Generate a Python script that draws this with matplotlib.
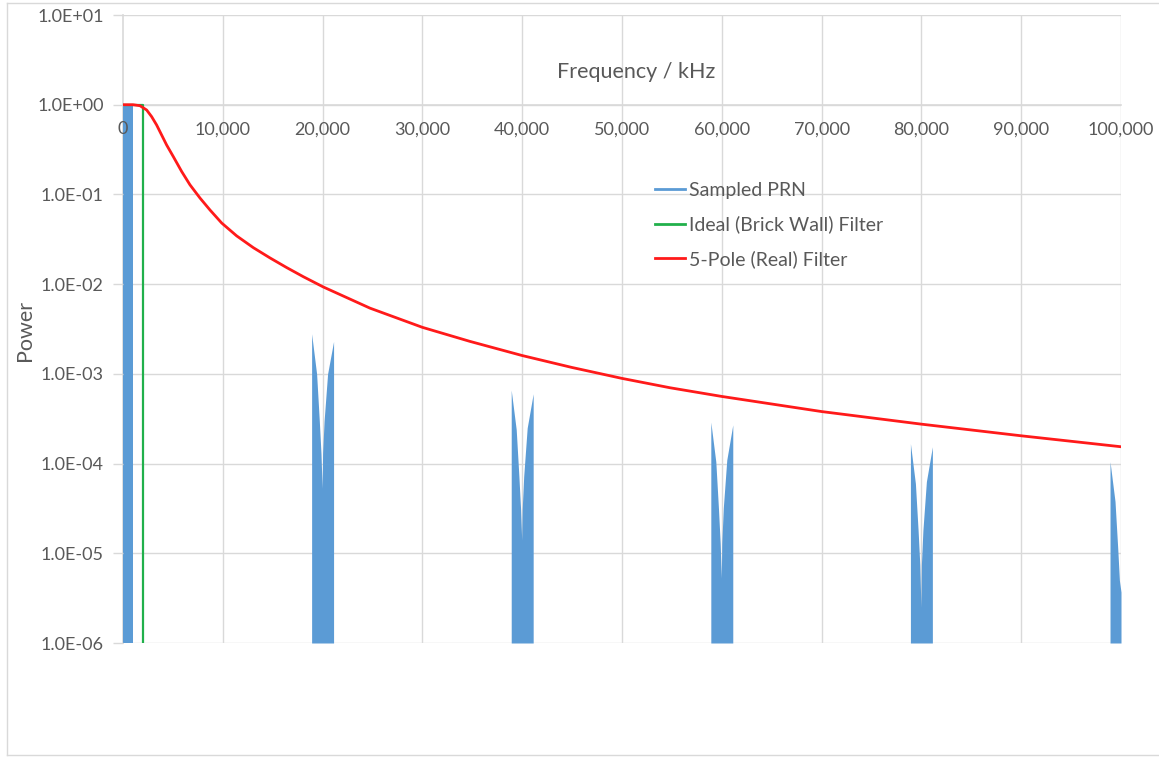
import matplotlib.pyplot as plt
from matplotlib.lines import Line2D
from matplotlib.ticker import FixedLocator, FuncFormatter, NullLocator

plt.rcParams['font.family'] = ['Lato', 'DejaVu Sans']

# Sampled PRN spectrum: DC band plus the alias lobes around each multiple of 20 kHz
dc_freq = [0, 1000]
dc_power = [1.0, 1.0]

lobe_offsets = [-1100, -600, -330, -160, -50, 0, 150, 500, 1100]
lobe_centers = [20000, 40000, 60000, 80000]
lobe_powers = [
    [2.8e-3, 1.0e-3, 3.0e-4, 1.3e-4, 5.3e-5, 1.3e-4, 3.0e-4, 1.0e-3, 2.3e-3],
    [6.6e-4, 2.4e-4, 7.2e-5, 3.1e-5, 1.4e-5, 3.1e-5, 7.2e-5, 2.5e-4, 6.0e-4],
    [2.9e-4, 1.05e-4, 3.1e-5, 1.3e-5, 5.3e-6, 1.3e-5, 3.2e-5, 1.1e-4, 2.7e-4],
    [1.67e-4, 6.0e-5, 1.8e-5, 7.5e-6, 2.5e-6, 7.5e-6, 1.8e-5, 6.3e-5, 1.54e-4],
]
# last lobe is cut off at the 100 kHz edge
edge_freq = [98900, 99400, 99670, 99840, 100000]
edge_power = [1.05e-4, 3.8e-5, 1.15e-5, 5.0e-6, 3.7e-6]

# Ideal brick-wall filter at 2 kHz
brick_freq = [0, 2000, 2000]
brick_power = [1.0, 1.0, 1e-6]

# 5-pole filter response
pole_freq = [0, 1000, 1700, 2370, 2870, 3370, 3870, 4370, 5040, 5880, 6710, 7720,
             8720, 9890, 11390, 13060, 14730, 16400, 18070, 20070, 24750, 30000,
             34770, 40000, 44960, 50000, 54810, 60000, 70000, 80000, 90000, 100000]
pole_power = [1.0, 1.0, 0.975, 0.873, 0.736, 0.594, 0.460, 0.356, 0.264, 0.180,
              0.128, 0.091, 0.067, 0.048, 0.0345, 0.0255, 0.0196, 0.0153, 0.0121,
              0.0093, 0.0054, 0.0033, 0.0023, 0.0016, 0.00118, 8.9e-4, 7.0e-4,
              5.6e-4, 3.8e-4, 2.75e-4, 2.04e-4, 1.54e-4]

x_ticks = list(range(0, 100001, 10000))
y_ticks = [1e1, 1e0, 1e-1, 1e-2, 1e-3, 1e-4, 1e-5, 1e-6]

blue = '#5B9BD5'
green = '#21B04B'
red = '#FF1A1A'
text_grey = '#595959'
grid_grey = '#D9D9D9'
floor = 1e-6

fig = plt.figure(figsize=(11.59, 7.57), dpi=100)
ax = fig.add_axes([123 / 1159, 114 / 757, 998 / 1159, 628 / 757])

# gridlines drawn by hand so the tick labels can sit above the data
for xv in x_ticks[1:]:
    ax.axvline(xv, color=grid_grey, linewidth=1.0, zorder=0)
for yv in y_ticks:
    ax.axhline(yv, color=grid_grey, linewidth=1.0, zorder=0)

ax.fill_between(dc_freq, floor, dc_power, color=blue, linewidth=0, zorder=1)
for center, powers in zip(lobe_centers, lobe_powers):
    xs = [center + o for o in lobe_offsets]
    ax.fill_between(xs, floor, powers, color=blue, linewidth=0, zorder=1)
ax.fill_between(edge_freq, floor, edge_power, color=blue, linewidth=0, zorder=1)

ax.plot(brick_freq, brick_power, color=green, linewidth=1.6, zorder=1.5)
ax.plot(pole_freq, pole_power, color=red, linewidth=2.0, zorder=3)

ax.set_yscale('log')
ax.set_xlim(0, 100000)
ax.set_ylim(1e-6, 1e1)

ax.xaxis.set_major_locator(FixedLocator(x_ticks))
ax.xaxis.set_major_formatter(FuncFormatter(lambda v, p: f'{int(v):,}'))
ax.yaxis.set_major_locator(FixedLocator(y_ticks))
ax.yaxis.set_minor_locator(NullLocator())
ax.yaxis.set_major_formatter(FuncFormatter(lambda v, p: f'{v:.1E}'))

for side in ['top', 'right']:
    ax.spines[side].set_visible(False)
ax.spines['bottom'].set_position(('data', 1.0))
ax.spines['bottom'].set_color(grid_grey)
ax.spines['left'].set_color(grid_grey)
ax.spines['bottom'].set_linewidth(1.2)
ax.spines['left'].set_linewidth(1.2)
ax.spines['bottom'].set_zorder(0.5)
ax.spines['left'].set_zorder(0.5)

ax.tick_params(axis='x', length=0, pad=12, labelsize=13, labelcolor=text_grey)
ax.tick_params(axis='y', length=7, width=1.0, color=grid_grey, pad=7,
               labelsize=13, labelcolor=text_grey)

ax.text(0.514, 0.909, 'Frequency / kHz', transform=ax.transAxes, ha='center',
        va='center', fontsize=15.5, color=text_grey)
fig.text(25 / 1159, 1 - 330 / 757, 'Power', rotation=90, ha='center', va='center',
         fontsize=15.5, color=text_grey)

handles = [Line2D([], [], color=blue, linewidth=2),
           Line2D([], [], color=green, linewidth=2),
           Line2D([], [], color=red, linewidth=2)]
ax.legend(handles, ['Sampled PRN', 'Ideal (Brick Wall) Filter', '5-Pole (Real) Filter'],
          loc='upper left', bbox_to_anchor=(655 / 1159, 1 - 182 / 757),
          bbox_transform=fig.transFigure, frameon=False, fontsize=14,
          labelcolor=text_grey, handlelength=1.55, handletextpad=0.2,
          labelspacing=0.86, borderaxespad=0, borderpad=0)

# chart area border
for xs, ys in [([7, 7], [2, 754]), ([7, 1159], [754, 754]), ([7, 1159], [2, 2])]:
    fig.add_artist(Line2D([x / 1159 for x in xs], [y / 757 for y in ys],
                          color=grid_grey, linewidth=1.0))

fig.savefig('out.png', dpi=100)
